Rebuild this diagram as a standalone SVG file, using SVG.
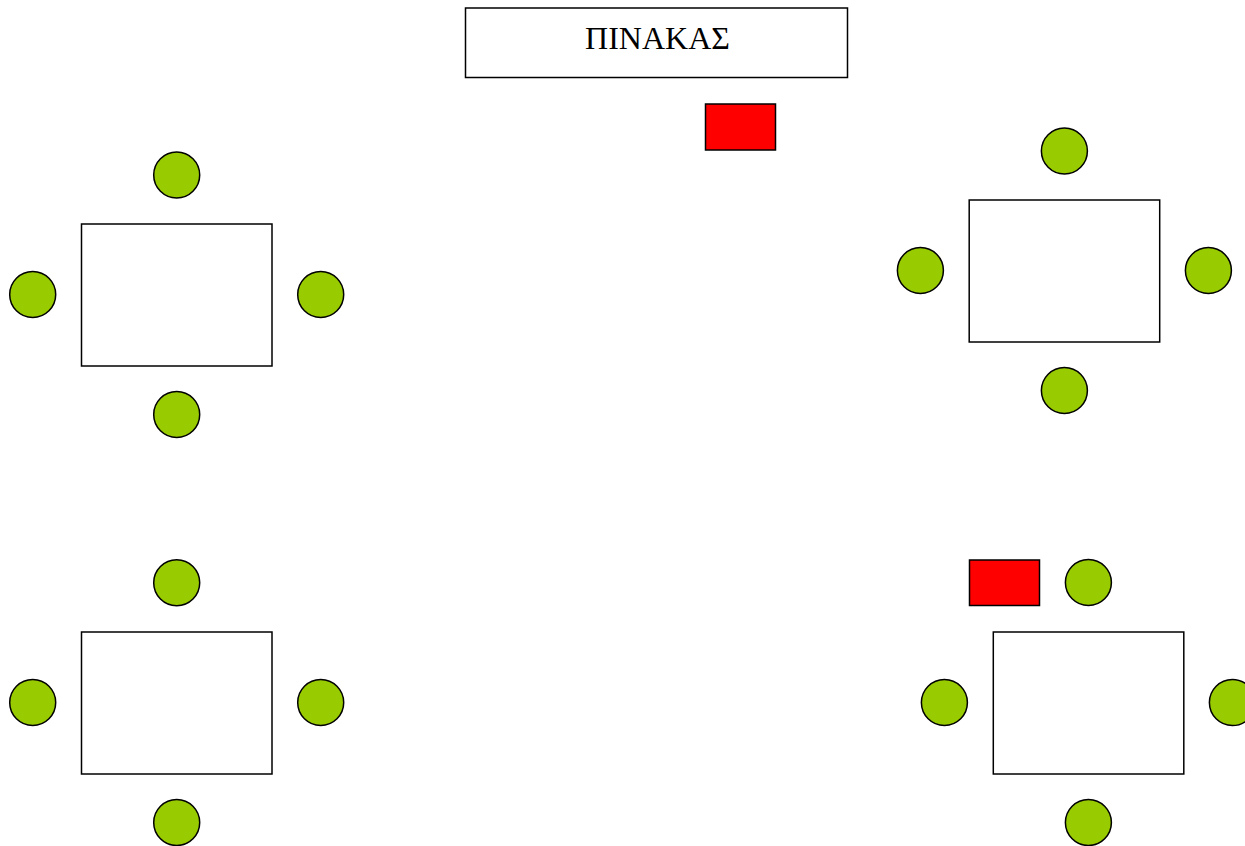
<svg xmlns="http://www.w3.org/2000/svg" width="1245" height="846" viewBox="0 0 1245 846">
<style>
.tbl{fill:#FFFFFF;stroke:#000000;stroke-width:1.5}
.seat{fill:#99CC00;stroke:#000000;stroke-width:1.5}
.red{fill:#FF0000;stroke:#000000;stroke-width:1.5}
.lbl{font-family:"Liberation Serif","Times New Roman",serif;font-size:32px;fill:#000000}
</style>
<rect width="1245" height="846" fill="#FFFFFF"/>
<g id="board">
<rect class="tbl" x="465.5" y="8" width="382" height="69.5"/>
<text class="lbl" x="657.5" y="49" text-anchor="middle">ΠΙΝΑΚΑΣ</text>
</g>
<g id="teacher-desk-top">
<rect class="red" x="705.5" y="104" width="70" height="46"/>
</g>
<g id="group-top-left">
<rect class="tbl" x="81.5" y="224" width="190.5" height="142"/>
<circle class="seat" cx="176.7" cy="175" r="23"/>
<circle class="seat" cx="32.7" cy="294.5" r="23"/>
<circle class="seat" cx="320.7" cy="294.5" r="23"/>
<circle class="seat" cx="176.7" cy="414.5" r="23"/>
</g>
<g id="group-top-right">
<rect class="tbl" x="969.2" y="200" width="190.5" height="142"/>
<circle class="seat" cx="1064.4" cy="151" r="23"/>
<circle class="seat" cx="920.4" cy="270.5" r="23"/>
<circle class="seat" cx="1208.4" cy="270.5" r="23"/>
<circle class="seat" cx="1064.4" cy="390.5" r="23"/>
</g>
<g id="group-bottom-left">
<rect class="tbl" x="81.5" y="632" width="190.5" height="142"/>
<circle class="seat" cx="176.7" cy="582.7" r="23"/>
<circle class="seat" cx="32.7" cy="702.5" r="23"/>
<circle class="seat" cx="320.7" cy="702.5" r="23"/>
<circle class="seat" cx="176.7" cy="822.5" r="23"/>
</g>
<g id="group-bottom-right">
<rect class="tbl" x="993.3" y="632" width="190.5" height="142"/>
<circle class="seat" cx="1088.4" cy="582.5" r="23"/>
<circle class="seat" cx="944.4" cy="702.5" r="23"/>
<circle class="seat" cx="1232.4" cy="702.5" r="23"/>
<circle class="seat" cx="1088.4" cy="822.5" r="23"/>
</g>
<g id="teacher-desk-bottom">
<rect class="red" x="969.5" y="560" width="70" height="45.5"/>
</g>
<g id="connectors"></g>
</svg>
